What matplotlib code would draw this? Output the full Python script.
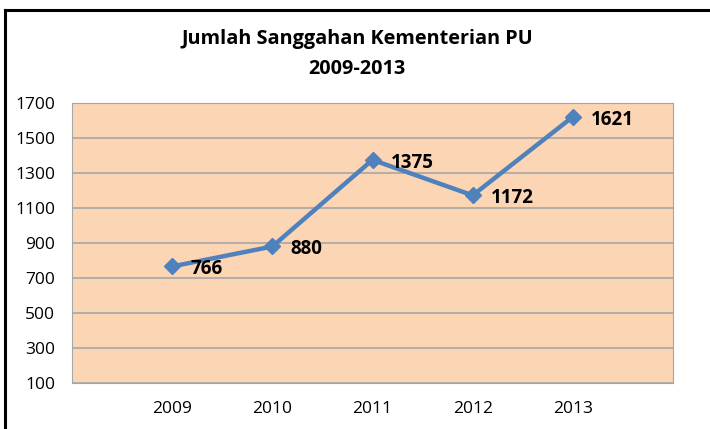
import matplotlib
matplotlib.use('Agg')
import matplotlib.pyplot as plt
from matplotlib.lines import Line2D

plt.rcParams['font.family'] = ['Open Sans', 'DejaVu Sans']

years = ['2009', '2010', '2011', '2012', '2013']
sanggahan = [766, 880, 1375, 1172, 1621]
yticks = [100, 300, 500, 700, 900, 1100, 1300, 1500, 1700]

fig = plt.figure(figsize=(7.1, 4.29), dpi=100)
ax = fig.add_axes([0.1014, 0.1072, 0.8465, 0.6528])

ax.set_facecolor('#fcd5b4')
x = list(range(len(years)))
ax.plot(x, sanggahan, color='#4f81bd', lw=3.2, marker='D', ms=8, zorder=3)

for xi, v in zip(x, sanggahan):
    ax.annotate(str(v), (xi, v), xytext=(13, -2), textcoords='offset points',
                ha='left', va='center', fontsize=13.5, fontweight='bold')

ax.set_xlim(-1, 5)
ax.set_ylim(100, 1700)
ax.set_yticks(yticks)
ax.set_xticks(x)
ax.set_xticklabels(years)
ax.yaxis.grid(True, color='#a6a6a6', lw=1.2)
ax.set_axisbelow(True)
ax.tick_params(length=0, labelsize=12.5)
ax.tick_params(axis='x', pad=13)
ax.tick_params(axis='y', pad=12)
for s in ['left', 'bottom']:
    ax.spines[s].set_color('#a6a6a6')
for s in ['top', 'right']:
    ax.spines[s].set_color('#8ea9cf')

fig.text(0.503, 0.908, 'Jumlah Sanggahan Kementerian PU', ha='center', va='center',
         fontsize=14.3, fontweight='bold')
fig.text(0.503, 0.840, '2009-2013', ha='center', va='center',
         fontsize=14.3, fontweight='bold')

# outer border (top and left, as in the reference crop)
fig.add_artist(Line2D([0.007, 1.0], [0.977, 0.977], color='black', lw=2.2))
fig.add_artist(Line2D([0.007, 0.007], [0.0, 0.977], color='black', lw=2.2))

fig.savefig('out.png', dpi=100)
